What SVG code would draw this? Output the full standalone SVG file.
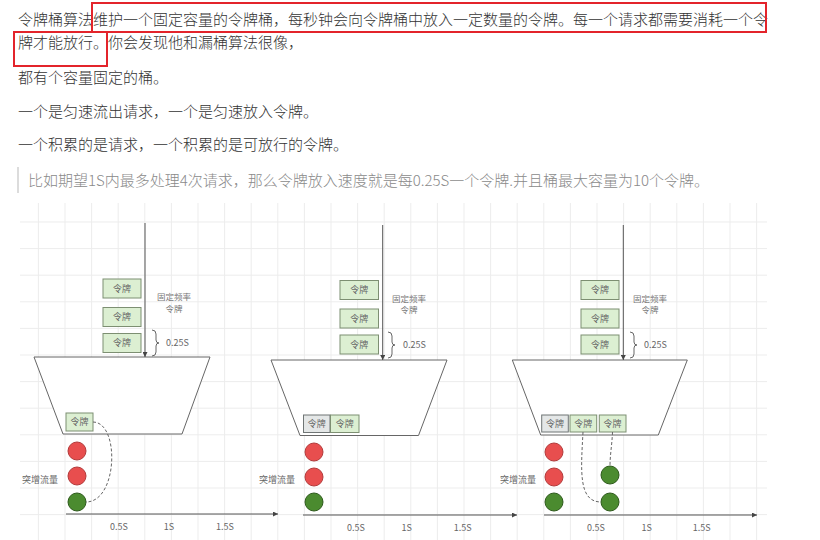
<svg xmlns="http://www.w3.org/2000/svg" width="820" height="540" viewBox="0 0 820 540">
<style>
.t{font-family:"Noto Sans CJK SC","Liberation Sans",sans-serif;font-size:15px;font-weight:300;fill:#333}
.q{font-family:"Noto Sans CJK SC","Liberation Sans",sans-serif;font-size:15px;font-weight:300;fill:#8a8a8a}
.s{font-family:"Noto Sans CJK SC","Liberation Sans",sans-serif;font-size:9px;fill:#666}
.sm{font-family:"Noto Sans CJK SC","Liberation Sans",sans-serif;font-size:8.5px;fill:#777}
.mid{text-anchor:middle}
.tok{fill:#dcefd2;stroke:#7d8f72;stroke-width:1}
.used{fill:#e4e7e7;stroke:#6f7575;stroke-width:1}
.red{fill:#e84e4e;stroke:#b23a3a;stroke-width:1}
.grn{fill:#4b8b2f;stroke:#2e5a1c;stroke-width:1}
.bucket{fill:#fff;stroke:#666;stroke-width:1}
.line{stroke:#555;stroke-width:1;fill:none}
.dash{stroke:#666;stroke-width:1;fill:none;stroke-dasharray:3 2}
.brace{stroke:#666;stroke-width:1;fill:none}
.box{fill:none;stroke:#e3242b;stroke-width:2}
</style>
<defs>
<pattern id="grid" x="64.5" y="221.5" width="26.6" height="26.6" patternUnits="userSpaceOnUse">
<path d="M0.5,0 V26.6 M0,0.5 H26.6" stroke="#ececec" stroke-width="1" fill="none"/>
</pattern>
<marker id="arr" viewBox="0 0 8 8" refX="8" refY="4" markerWidth="5" markerHeight="5" markerUnits="userSpaceOnUse" orient="auto">
<path d="M0,0 L8,4 L0,8 z" fill="#444"/>
</marker>
</defs>
<rect width="820" height="540" fill="#fff"/>
<g id="article-text">
<text class="t" x="18" y="25">令牌桶算法维护一个固定容量的令牌桶，每秒钟会向令牌桶中放入一定数量的令牌。每一个请求都需要消耗一个令</text>
<text class="t" x="18" y="48">牌才能放行。你会发现他和漏桶算法很像，</text>
<text class="t" x="18" y="83">都有个容量固定的桶。</text>
<text class="t" x="18" y="117">一个是匀速流出请求，一个是匀速放入令牌。</text>
<text class="t" x="18" y="150">一个积累的是请求，一个积累的是可放行的令牌。</text>
<rect x="17" y="167" width="2" height="26" fill="#dcdcdc"/>
<text class="q" x="28" y="186">比如期望1S内最多处理4次请求，那么令牌放入速度就是每0.25S一个令牌.并且桶最大容量为10个令牌。</text>
</g>
<g id="highlights">
<rect class="box" x="92" y="3" width="674" height="29"/>
<rect class="box" x="14" y="32" width="93" height="34"/>
</g>
<rect id="grid-bg" x="20" y="203" width="747" height="337" fill="url(#grid)"/>

<g id="panel-1">
<g id="p1-bucket"><polygon class="bucket" points="34,357 210,357 182,434 63,434"/></g>
<g id="p1-token-a"><rect class="tok" x="103" y="279" width="38" height="19"/><text class="s mid" x="122" y="291.5">令牌</text></g>
<g id="p1-token-b"><rect class="tok" x="103" y="307.5" width="38" height="19"/><text class="s mid" x="122" y="320">令牌</text></g>
<g id="p1-token-c"><rect class="tok" x="103" y="333.5" width="38" height="19"/><text class="s mid" x="122" y="346">令牌</text></g>
<g id="p1-rate"><text class="sm mid" x="174" y="300">固定频率</text><text class="sm mid" x="174" y="311.5">令牌</text></g>
<g id="p1-interval"><path class="brace" d="M152,330 q4,0 4,4 v6 q0,3 3,3 q-3,0 -3,3 v6 q0,4 -4,4"/><text class="s" x="166" y="346">0.25S</text></g>
<g id="p1-bucket-token"><rect class="tok" x="66" y="413" width="27" height="18"/><text class="s mid" x="79.5" y="425">令牌</text></g>
<g id="p1-req-1"><circle class="red" cx="77" cy="451" r="9"/></g>
<g id="p1-req-2"><circle class="red" cx="77" cy="476" r="9"/></g>
<g id="p1-req-3"><circle class="grn" cx="77" cy="502" r="9"/></g>
<g id="p1-burst"><text class="s" x="22" y="483">突增流量</text></g>
<g id="p1-ticks"><text class="s mid" x="119" y="530">0.5S</text><text class="s mid" x="169" y="530">1S</text><text class="s mid" x="225" y="530">1.5S</text></g>
</g>

<g id="panel-2">
<g id="p2-bucket"><polygon class="bucket" points="271,360 447,360 418.5,435.5 300,435.5"/></g>
<g id="p2-token-a"><rect class="tok" x="340" y="280.5" width="38.5" height="19"/><text class="s mid" x="359.2" y="293">令牌</text></g>
<g id="p2-token-b"><rect class="tok" x="340" y="309" width="38.5" height="19"/><text class="s mid" x="359.2" y="321.5">令牌</text></g>
<g id="p2-token-c"><rect class="tok" x="340" y="335" width="38.5" height="19"/><text class="s mid" x="359.2" y="347.5">令牌</text></g>
<g id="p2-rate"><text class="sm mid" x="409" y="301.5">固定频率</text><text class="sm mid" x="409" y="313">令牌</text></g>
<g id="p2-interval"><path class="brace" d="M388,332 q4,0 4,4 v6 q0,3 3,3 q-3,0 -3,3 v6 q0,4 -4,4"/><text class="s" x="403" y="348">0.25S</text></g>
<g id="p2-bucket-token-used"><rect class="used" x="303.5" y="415" width="26.5" height="17.5"/><text class="s mid" x="316.7" y="427">令牌</text></g>
<g id="p2-bucket-token"><rect class="tok" x="330.5" y="415" width="28.5" height="17.5"/><text class="s mid" x="344.7" y="427">令牌</text></g>
<g id="p2-req-1"><circle class="red" cx="314" cy="452" r="9"/></g>
<g id="p2-req-2"><circle class="red" cx="314" cy="477" r="9"/></g>
<g id="p2-req-3"><circle class="grn" cx="314" cy="502" r="9"/></g>
<g id="p2-burst"><text class="s" x="259" y="483">突增流量</text></g>
<g id="p2-ticks"><text class="s mid" x="356" y="531">0.5S</text><text class="s mid" x="406.7" y="531">1S</text><text class="s mid" x="462.7" y="531">1.5S</text></g>
</g>

<g id="panel-3">
<g id="p3-bucket"><polygon class="bucket" points="512.3,360 687.3,360 658.3,435 540.7,435"/></g>
<g id="p3-token-a"><rect class="tok" x="581" y="280.5" width="38" height="19"/><text class="s mid" x="600" y="293">令牌</text></g>
<g id="p3-token-b"><rect class="tok" x="581" y="309" width="38" height="19"/><text class="s mid" x="600" y="321.5">令牌</text></g>
<g id="p3-token-c"><rect class="tok" x="581" y="335" width="38" height="19"/><text class="s mid" x="600" y="347.5">令牌</text></g>
<g id="p3-rate"><text class="sm mid" x="650" y="301.5">固定频率</text><text class="sm mid" x="650" y="313">令牌</text></g>
<g id="p3-interval"><path class="brace" d="M630,332 q4,0 4,4 v6 q0,3 3,3 q-3,0 -3,3 v6 q0,4 -4,4"/><text class="s" x="644" y="348">0.25S</text></g>
<g id="p3-bucket-token-used"><rect class="used" x="541.7" y="415" width="26.6" height="17"/><text class="s mid" x="555" y="427">令牌</text></g>
<g id="p3-bucket-token-a"><rect class="tok" x="570" y="415" width="26.7" height="17"/><text class="s mid" x="583.3" y="427">令牌</text></g>
<g id="p3-bucket-token-b"><rect class="tok" x="599.3" y="415" width="26.7" height="17"/><text class="s mid" x="612.6" y="427">令牌</text></g>
<g id="p3-req-1"><circle class="red" cx="554" cy="452" r="9"/></g>
<g id="p3-req-2"><circle class="red" cx="554" cy="477" r="9"/></g>
<g id="p3-req-3"><circle class="grn" cx="554" cy="502" r="9"/></g>
<g id="p3-pass-1"><circle class="grn" cx="610" cy="475" r="9"/></g>
<g id="p3-pass-2"><circle class="grn" cx="610" cy="502" r="9"/></g>
<g id="p3-burst"><text class="s" x="500" y="483">突增流量</text></g>
<g id="p3-ticks"><text class="s mid" x="596" y="531">0.5S</text><text class="s mid" x="646.7" y="531">1S</text><text class="s mid" x="701.7" y="531">1.5S</text></g>
</g>

<g id="connectors">
<line class="line" x1="145" y1="223" x2="145" y2="357" marker-end="url(#arr)"/>
<line class="line" x1="382.7" y1="225" x2="382.7" y2="360" marker-end="url(#arr)"/>
<line class="line" x1="623.3" y1="225" x2="623.3" y2="360" marker-end="url(#arr)"/>
<line class="line" x1="66" y1="514" x2="278" y2="514" marker-end="url(#arr)"/>
<line class="line" x1="303" y1="515" x2="517" y2="515" marker-end="url(#arr)"/>
<line class="line" x1="544" y1="515" x2="757" y2="515" marker-end="url(#arr)"/>
<path class="dash" d="M93,422 C120,422 118,502 86,502"/>
<path class="dash" d="M583,432 C581,470 578,502 601,502"/>
<path class="dash" d="M612.5,432 C612,445 610,455 610,466"/>
</g>
</svg>
